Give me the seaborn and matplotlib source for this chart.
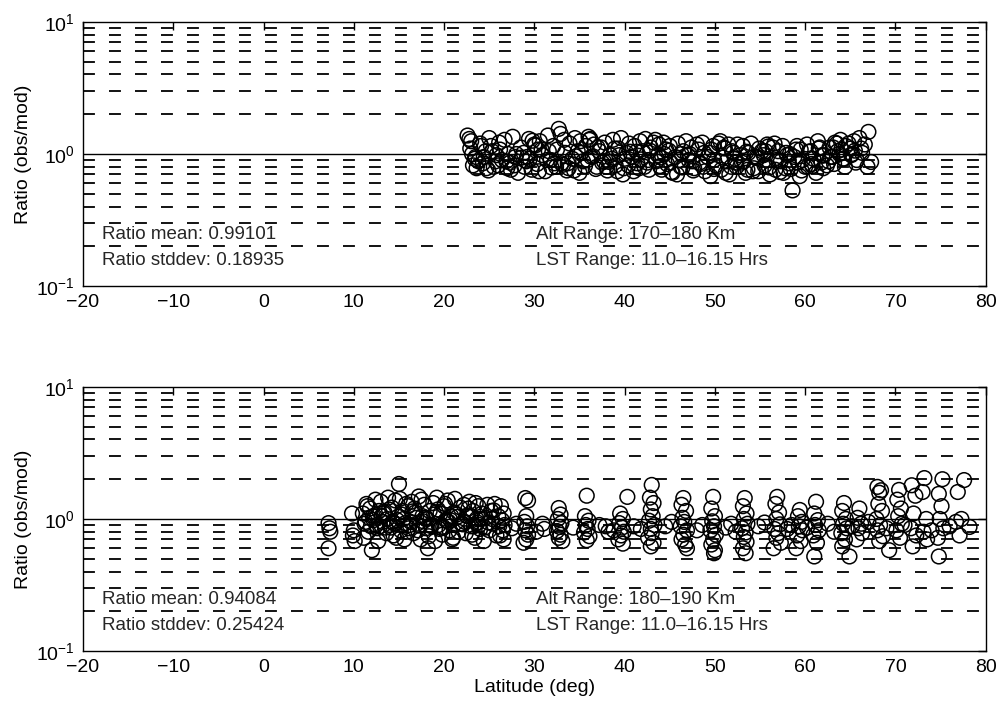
import numpy as np
import pandas as pd
import matplotlib
matplotlib.use("Agg")
import matplotlib.pyplot as plt
import matplotlib.ticker as mticker
import seaborn as sns

# ---------------- data ----------------
top_lat = [
    22.6, 22.8, 23.0, 23.2, 22.9, 23.4, 23.6, 23.1, 23.8, 24.0,
    24.3, 24.6, 24.9, 25.2, 24.4, 25.0, 25.5, 25.8, 26.1, 26.4,
    26.7, 27.0, 26.2, 27.3, 27.6, 27.9, 28.2, 28.5, 27.8, 28.8,
    29.1, 29.4, 29.7, 30.0, 29.2, 30.3, 30.6, 30.9, 31.2, 30.4,
    31.5, 31.8, 32.1, 32.4, 31.6, 32.7, 33.0, 33.3, 32.9, 33.6,
    33.9, 34.2, 34.5, 33.8, 34.8, 35.1, 35.4, 35.7, 35.0, 36.0,
    36.3, 36.6, 36.9, 36.2, 37.2, 37.5, 37.8, 38.1, 37.4, 38.4,
    38.7, 39.0, 39.3, 38.6, 39.6, 39.9, 40.2, 40.5, 39.8, 40.8,
    41.1, 41.4, 41.7, 41.0, 42.0, 42.3, 42.6, 42.9, 42.2, 43.2,
    43.5, 43.8, 44.1, 43.4, 44.4, 44.7, 45.0, 45.3, 44.6, 45.6,
    45.9, 46.2, 46.5, 45.8, 46.8, 47.1, 47.4, 47.7, 47.0, 48.0,
    48.3, 48.6, 48.9, 48.2, 49.2, 49.5, 49.8, 50.1, 49.4, 50.4,
    50.7, 51.0, 51.3, 50.6, 51.6, 51.9, 52.2, 52.5, 51.8, 52.8,
    53.1, 53.4, 53.7, 53.0, 54.0, 54.3, 54.6, 54.9, 54.2, 55.2,
    55.5, 55.8, 56.1, 55.4, 56.4, 56.7, 57.0, 57.3, 56.6, 57.6,
    57.9, 58.2, 58.6, 57.8, 58.8, 59.1, 59.4, 59.7, 59.0, 60.0,
    60.3, 60.6, 60.9, 60.2, 61.2, 61.5, 61.8, 62.1, 61.4, 62.4,
    62.7, 63.0, 63.3, 62.6, 63.6, 63.9, 64.2, 64.5, 63.8, 64.8,
    65.1, 65.4, 65.7, 65.0, 66.0, 66.3, 66.6, 66.9, 67.0, 67.3,
    23.5, 25.3, 26.9, 28.0, 29.5, 30.8, 32.2, 33.4, 34.6, 35.9,
    37.0, 38.3, 39.4, 40.6, 41.8, 42.8, 44.0, 45.1, 46.3, 47.5,
    48.8, 49.9, 51.1, 52.3, 53.5, 54.7, 55.9, 57.1, 58.3, 59.5,
    60.7, 61.9, 63.1, 64.3, 65.5, 24.1, 25.7, 27.1, 28.6, 30.1,
    31.4, 32.5, 33.7, 35.2, 36.5, 37.7, 38.9, 40.0, 41.3, 42.5,
    43.7, 44.9, 46.0, 47.2, 48.4, 49.6, 50.9, 52.0, 53.2, 54.4,
    55.6, 56.8, 58.0, 59.2, 60.4, 61.6, 62.8, 64.0, 65.2, 66.2,
    24.7, 26.0, 27.4, 28.9, 30.5, 31.9, 33.2, 34.4, 35.6, 36.8,
    38.0, 39.2, 40.4, 41.6, 42.7, 43.9, 45.2, 46.4, 47.6, 48.7,
    49.9, 51.2, 52.4, 53.6, 54.8, 56.0, 57.2, 58.4, 59.6, 60.8,
    62.0, 63.2, 64.4, 65.6, 29.8, 36.1, 44.3, 51.5, 57.5, 63.5,
]
top_ratio = [
    1.38, 1.30, 1.25, 0.82, 1.10, 0.92, 0.78, 1.00, 0.88, 1.20,
    0.85, 1.05, 0.75, 1.15, 0.95, 1.32, 0.80, 0.98, 1.22, 0.90,
    1.28, 0.78, 1.08, 0.86, 1.35, 0.95, 0.72, 1.12, 0.82, 1.02,
    0.88, 1.30, 0.76, 1.18, 0.95, 0.84, 1.25, 0.98, 0.74, 1.08,
    1.38, 0.90, 1.15, 0.80, 1.05, 1.55, 0.85, 1.28, 1.42, 0.75,
    1.20, 0.92, 1.32, 0.78, 1.05, 1.25, 0.88, 1.15, 0.72, 1.35,
    0.95, 1.18, 0.80, 1.30, 1.05, 0.86, 1.22, 0.75, 1.12, 0.98,
    1.28, 0.82, 1.10, 0.92, 1.32, 0.78, 1.02, 1.20, 0.70, 0.95,
    1.15, 0.85, 1.25, 0.74, 1.05, 1.30, 0.90, 1.12, 0.80, 1.22,
    0.88, 1.18, 0.76, 1.28, 1.00, 0.84, 1.15, 0.72, 1.08, 0.95,
    1.20, 0.80, 1.05, 0.70, 1.25, 0.90, 1.12, 0.78, 0.98, 1.18,
    0.86, 1.22, 0.74, 1.08, 0.95, 0.68, 1.15, 0.82, 1.02, 1.20,
    0.76, 1.12, 0.88, 1.25, 0.70, 1.05, 0.92, 1.18, 0.80, 0.98,
    1.15, 0.72, 1.02, 0.86, 1.20, 0.78, 0.95, 1.10, 0.74, 1.05,
    0.82, 1.18, 0.70, 0.98, 1.12, 0.76, 1.05, 0.88, 1.20, 0.72,
    1.02, 0.85, 0.53, 0.78, 0.95, 1.15, 0.68, 0.90, 1.08, 0.80,
    0.80, 1.05, 0.92, 1.18, 0.72, 1.10, 0.86, 0.98, 1.25, 0.82,
    1.12, 0.95, 1.22, 0.88, 1.05, 1.28, 0.92, 1.15, 1.00, 1.20,
    0.98, 1.25, 0.90, 1.10, 1.32, 1.02, 1.18, 0.80, 1.47, 0.87,
    0.95, 1.05, 0.88, 1.00, 0.92, 1.08, 0.85, 1.02, 0.96, 0.90,
    1.12, 0.87, 0.98, 1.04, 0.91, 1.06, 0.94, 0.86, 1.00, 0.88,
    1.02, 0.90, 1.10, 0.86, 1.04, 0.93, 1.14, 0.89, 1.00, 1.08,
    0.84, 0.97, 1.12, 0.92, 1.06, 1.15, 0.88, 1.00, 0.94, 1.16,
    0.90, 1.08, 0.85, 1.02, 0.96, 0.88, 1.10, 0.92, 1.04, 0.86,
    0.98, 1.06, 0.90, 1.00, 0.84, 1.08, 0.94, 1.02, 0.88, 0.96,
    1.05, 0.90, 0.98, 0.86, 1.04, 1.12, 0.95, 1.08, 1.00, 1.10,
    0.78, 0.82, 0.76, 0.80, 0.74, 0.79, 0.83, 0.75, 0.81, 0.77,
    0.80, 0.74, 0.82, 0.78, 0.76, 0.81, 0.73, 0.79, 0.75, 0.80,
    0.77, 0.72, 0.80, 0.76, 0.74, 0.79, 0.73, 0.77, 0.75, 0.81,
    0.78, 0.84, 0.80, 0.86, 1.26, 1.28, 1.22, 1.18, 1.15, 1.20,
]

bot_lat = [
    7.2, 7.3, 7.4, 7.2,
    9.8, 10.0, 10.1, 9.9,
    11.0, 11.2, 11.4, 11.6, 11.8, 12.0, 12.2, 12.4, 12.6, 12.8,
    11.1, 11.5, 11.9, 12.3, 12.7, 13.0, 13.2, 13.4, 13.6, 13.8,
    14.0, 14.2, 14.4, 14.6, 14.8, 15.0, 15.2, 15.4, 15.6, 15.8,
    13.1, 13.5, 13.9, 14.3, 14.7, 15.1, 15.5, 15.9, 16.0, 16.2,
    16.4, 16.6, 16.8, 17.0, 17.2, 17.4, 17.6, 17.8, 18.0, 18.2,
    16.3, 16.7, 17.1, 17.5, 17.9, 18.3, 18.4, 18.6, 18.8, 19.0,
    19.2, 19.4, 19.6, 19.8, 20.0, 20.2, 20.4, 20.6, 20.8, 21.0,
    19.3, 19.7, 20.1, 20.5, 20.9, 21.2, 21.4, 21.6, 21.8, 22.0,
    22.2, 22.4, 22.6, 22.8, 23.0, 23.2, 23.4, 23.6, 23.8, 24.0,
    22.3, 22.7, 23.1, 23.5, 23.9, 24.2, 24.4, 24.6, 24.8, 25.0,
    25.2, 25.4, 25.6, 25.8, 26.0,
    11.3, 12.1, 12.9, 13.7, 14.5, 15.3, 16.1, 16.9, 17.7, 18.5,
    19.1, 19.9, 20.7, 21.5, 22.1, 22.9, 23.7, 24.5, 25.3, 26.1,
    11.7, 12.5, 13.3, 14.1, 14.9, 15.7, 16.5, 17.3, 18.1, 18.9,
    19.5, 20.3, 21.1, 21.9, 22.5, 23.3, 24.1, 24.9, 25.5,
    26.3, 26.6, 26.4, 26.7, 26.5, 26.2, 26.6,
    29.0, 29.3, 29.1, 28.9, 29.2, 29.0, 29.3, 29.1, 28.8,
    30.9, 31.1,
    32.7, 32.9, 32.6, 33.0, 32.8, 32.5, 32.9, 32.7, 33.1,
    35.8, 35.6, 36.0, 35.7, 35.9, 35.5, 36.1, 35.8,
    37.9, 38.2,
    40.3, 39.5, 39.8, 39.4, 39.7, 39.9, 39.6, 39.3, 39.8,
    43.0, 42.8, 43.2, 42.9, 43.1, 42.7, 43.3, 42.9, 43.0, 42.6, 43.2, 42.9,
    46.5, 46.3, 46.8, 46.4, 46.6, 46.2, 46.9, 46.5, 46.3, 46.7, 46.9,
    49.8, 49.6, 50.0, 49.7, 49.9, 49.5, 50.1, 49.8, 49.6, 50.0, 49.9,
    53.3, 53.1, 53.5, 53.2, 53.6, 53.0, 53.4, 53.2, 53.5, 53.1, 53.4,
    56.9, 56.7, 57.1, 56.8, 57.2, 56.6, 57.0, 56.8, 57.3, 56.5,
    59.4, 59.2, 59.6, 59.3, 59.7, 59.1, 59.5, 59.0,
    61.2, 61.0, 61.4, 61.1, 61.5, 60.9, 61.3, 61.0,
    64.3, 64.1, 64.5, 64.2, 64.6, 64.0, 64.4, 64.1, 64.9,
    66.0, 65.8, 66.2, 65.9, 66.3, 65.7,
    68.0, 68.4, 68.2, 68.1, 68.5, 67.9, 68.3, 68.0, 68.6, 68.2,
    70.4, 70.2, 70.6, 70.3, 70.7, 70.1, 70.5, 69.3,
    71.8, 72.2, 72.0, 71.7, 72.3, 71.9,
    73.2, 73.0, 73.4, 73.1, 73.5,
    75.2, 74.8, 75.1, 74.9, 75.3, 74.7, 74.8,
    76.9, 76.7, 77.1,
    77.6, 77.3,
    78.2,
    44.5, 45.2, 48.0, 48.6, 51.2, 51.8, 52.3, 54.8, 55.5, 58.0,
    58.5, 60.2, 62.5, 63.2, 65.2, 67.0, 69.0, 71.0, 74.0, 76.0,
    27.5, 28.0, 30.2, 34.3, 37.2, 38.8, 41.0, 41.8,
]
bot_ratio = [
    0.93, 0.85, 0.80, 0.60,
    1.10, 0.82, 0.68, 0.75,
    1.10, 0.92, 1.30, 0.80, 1.20, 0.58, 0.98, 1.40, 0.85, 1.15,
    0.72, 1.25, 0.88, 1.05, 0.68, 1.35, 0.95, 1.12, 0.78, 1.45,
    0.90, 1.22, 0.75, 1.38, 0.98, 1.84, 0.82, 1.15, 0.70, 1.30,
    1.05, 0.86, 1.18, 0.95, 0.72, 1.42, 1.00, 0.80, 1.25, 0.90,
    1.35, 0.78, 1.12, 0.92, 1.48, 0.70, 1.05, 1.28, 0.85, 0.60,
    0.95, 1.20, 0.82, 1.40, 1.02, 0.74, 1.15, 0.88, 1.32, 0.68,
    1.45, 0.90, 1.10, 0.76, 1.25, 0.98, 1.38, 0.82, 1.05, 0.72,
    1.18, 0.86, 1.30, 0.95, 0.70, 1.42, 1.08, 0.80, 1.22, 0.92,
    1.28, 0.78, 1.05, 1.35, 0.88, 1.15, 0.72, 1.00, 1.25, 0.84,
    0.95, 1.20, 0.76, 1.32, 0.90, 1.10, 0.68, 1.02, 1.28, 0.82,
    1.15, 0.92, 1.30, 0.75, 1.05,
    0.95, 1.05, 0.88, 1.00, 0.92, 1.08, 0.85, 1.02, 0.96, 0.90,
    1.12, 0.87, 0.98, 1.04, 0.91, 1.06, 0.94, 0.86, 1.00, 0.88,
    1.02, 0.90, 1.10, 0.86, 1.04, 0.93, 1.14, 0.89, 1.00, 1.08,
    0.84, 0.97, 1.12, 0.92, 1.06, 0.88, 1.00, 0.94, 1.16,
    1.25, 1.10, 0.98, 0.90, 0.82, 0.75, 0.70,
    1.44, 1.38, 1.05, 0.95, 0.88, 0.82, 0.76, 0.70, 0.66,
    0.92, 0.84,
    1.21, 1.08, 1.00, 0.93, 0.87, 0.81, 0.76, 0.72, 0.68,
    1.50, 1.05, 0.97, 0.90, 0.84, 0.79, 0.74, 0.69,
    0.88, 0.80,
    1.47, 1.10, 1.00, 0.93, 0.86, 0.80, 0.75, 0.70, 0.65,
    1.81, 1.45, 1.32, 1.18, 1.05, 0.97, 0.90, 0.84, 0.78, 0.72, 0.66, 0.62,
    1.44, 1.28, 1.15, 1.02, 0.95, 0.88, 0.82, 0.76, 0.70, 0.64, 0.60,
    1.47, 1.20, 1.05, 0.96, 0.88, 0.82, 0.76, 0.70, 0.64, 0.58, 0.55,
    1.44, 1.25, 1.10, 1.00, 0.92, 0.85, 0.79, 0.73, 0.67, 0.60, 0.55,
    1.47, 1.30, 1.12, 1.00, 0.91, 0.84, 0.78, 0.72, 0.66, 0.60,
    1.17, 1.05, 0.95, 0.88, 0.82, 0.75, 0.68, 0.60,
    1.35, 1.10, 0.98, 0.90, 0.82, 0.75, 0.66, 0.52,
    1.32, 1.15, 1.00, 0.92, 0.85, 0.78, 0.70, 0.62, 0.52,
    1.20, 1.02, 0.92, 0.85, 0.78, 0.70,
    1.75, 1.65, 1.58, 1.30, 1.15, 1.00, 0.90, 0.82, 0.74, 0.68,
    1.66, 1.40, 1.20, 1.05, 0.92, 0.82, 0.72, 0.58,
    1.80, 1.50, 1.10, 0.85, 0.75, 0.62,
    2.04, 1.60, 1.00, 0.80, 0.70,
    2.00, 1.55, 1.25, 1.00, 0.85, 0.72, 0.52,
    1.60, 0.95, 0.75,
    1.97, 1.00,
    0.87,
    0.88, 0.95, 0.82, 0.90, 0.86, 0.92, 0.80, 0.88, 0.94, 0.84,
    0.90, 0.86, 0.92, 0.80, 0.88, 0.95, 0.85, 0.90, 0.82, 0.88,
    0.85, 0.92, 0.80, 0.86, 0.90, 0.82, 0.88, 0.84,
]

panel_stats = [("0.99101", "0.18935", "170\u2013180"),
               ("0.94084", "0.25424", "180\u2013190")]
lst_range = "11.0\u201316.15"
x_ticks = [-20, -10, 0, 10, 20, 30, 40, 50, 60, 70, 80]

# ---------------- style ----------------
FS = 13.5
TFS = 14
sns.set_theme(style="white")
plt.rcParams['font.family'] = ['Liberation Sans', 'DejaVu Sans']
plt.rcParams['font.size'] = FS
plt.rcParams['mathtext.fontset'] = 'custom'
plt.rcParams['mathtext.rm'] = 'Liberation Sans'
plt.rcParams['mathtext.it'] = 'Liberation Sans'
plt.rcParams['mathtext.default'] = 'regular'

fig = plt.figure(figsize=(10.02, 7.08), dpi=100)
ax_top = fig.add_axes([0.0828, 0.596, 0.901, 0.373])
ax_bot = fig.add_axes([0.0828, 0.0805, 0.901, 0.373])

datasets = [(top_lat, top_ratio), (bot_lat, bot_ratio)]
for ax, (lat, ratio), (mean, std, alt) in zip([ax_top, ax_bot], datasets, panel_stats):
    df = pd.DataFrame({"lat": lat, "ratio": ratio})
    ax.set_yscale("log")
    ax.set_xlim(-20, 80)
    ax.set_ylim(0.1, 10)
    # dashed minor grid
    for v in [0.2, 0.3, 0.4, 0.5, 0.6, 0.7, 0.8, 0.9, 2, 3, 4, 5, 6, 7, 8, 9]:
        ax.axhline(v, color="black", lw=1.3, ls=(0, (6.6, 7.8)), zorder=1)
    ax.axhline(1.0, color="black", lw=1.0, zorder=1)
    sns.scatterplot(data=df, x="lat", y="ratio", ax=ax, marker="o", s=112,
                    facecolors="none", edgecolor="black", linewidth=1.1,
                    zorder=3, legend=False)
    ax.set_xticks(x_ticks)
    ax.set_xticklabels([str(t).replace("-", "\u2212") for t in x_ticks])
    ax.set_yticks([0.1, 1, 10])
    ax.yaxis.set_major_formatter(mticker.LogFormatterSciNotation())
    ax.yaxis.set_minor_locator(mticker.LogLocator(subs=np.arange(2, 10)))
    ax.tick_params(which="major", direction="in", length=6, width=1,
                   top=True, right=True, labelsize=TFS, colors="black", pad=6)
    ax.tick_params(which="minor", length=0)
    for sp in ax.spines.values():
        sp.set_color("black")
        sp.set_linewidth(1.0)
    ax.set_xlabel("")
    ax.set_ylabel("Ratio (obs/mod)", fontsize=TFS, color="black", labelpad=3)
    ax.text(-17.9, 0.245, f"Ratio mean: {mean}", fontsize=FS, va="center", ha="left")
    ax.text(-17.9, 0.157, f"Ratio stddev: {std}", fontsize=FS, va="center", ha="left")
    ax.text(30.2, 0.245, f"Alt Range: {alt} Km", fontsize=FS, va="center", ha="left")
    ax.text(30.2, 0.157, f"LST Range: {lst_range} Hrs", fontsize=FS, va="center", ha="left")

ax_bot.set_xlabel("Latitude (deg)", fontsize=TFS, color="black", labelpad=2)

fig.savefig("out.png", dpi=100, facecolor="white")
